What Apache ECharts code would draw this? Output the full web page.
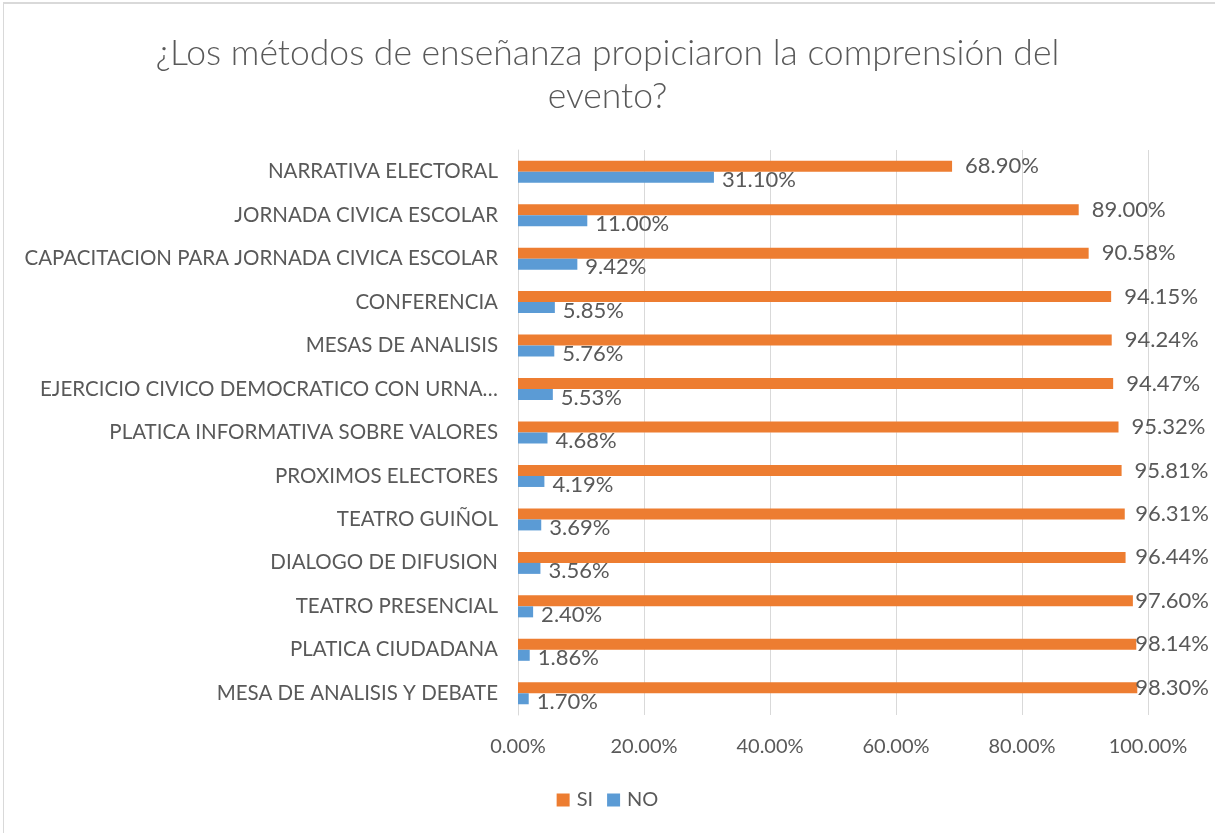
<!DOCTYPE html>
<html>
<head>
<meta charset="utf-8">
<script src="https://cdn.jsdelivr.net/npm/echarts@6/dist/echarts.min.js"></script>
<style>
html, body { margin: 0; padding: 0; background: #fff; }
#frame { position: absolute; left: 0; top: 0; width: 1215px; height: 833px; }
#edge { position: absolute; left: 3px; top: 2px; right: 0; bottom: 0; border-top: 2px solid #d9d9d9; border-left: 1px solid #d9d9d9; }
#chart { position: absolute; left: 0; top: 0; width: 1215px; height: 833px; }
</style>
</head>
<body>
<div id="frame">
  <div id="edge"></div>
  <div id="chart"></div>
</div>
<script>
// datos del grafico
var categories = [
    'NARRATIVA ELECTORAL',
    'JORNADA CIVICA ESCOLAR',
    'CAPACITACION PARA JORNADA CIVICA ESCOLAR',
    'CONFERENCIA',
    'MESAS DE ANALISIS',
    'EJERCICIO CIVICO DEMOCRATICO CON URNA…',
    'PLATICA INFORMATIVA SOBRE VALORES',
    'PROXIMOS ELECTORES',
    'TEATRO GUIÑOL',
    'DIALOGO DE DIFUSION',
    'TEATRO PRESENCIAL',
    'PLATICA CIUDADANA',
    'MESA DE ANALISIS Y DEBATE'
];
var siValues = [68.90, 89.00, 90.58, 94.15, 94.24, 94.47, 95.32, 95.81, 96.31, 96.44, 97.60, 98.14, 98.30];
var noValues = [31.10, 11.00, 9.42, 5.85, 5.76, 5.53, 4.68, 4.19, 3.69, 3.56, 2.40, 1.86, 1.70];
var axisTicks = [0, 20, 40, 60, 80, 100];

var FONT = 'Lato, "Open Sans", sans-serif';
var GREY = '#595959';

var myChart = echarts.init(document.getElementById('chart'), null, { renderer: 'canvas' });

// mantener las etiquetas dentro del area del grafico
function keepInside(params) {
    var r = params.labelRect;
    var over = r.x + r.width - 1209;
    if (over > 0) {
        return { dx: -over };
    }
    return {};
}

var option = {
    backgroundColor: 'transparent',
    animation: false,
    title: {
        text: '¿Los métodos de enseñanza propiciaron la comprensión del\nevento?',
        left: 'center',
        top: 27,
        textStyle: {
            fontFamily: FONT,
            fontSize: 35.5,
            fontWeight: 300,
            color: GREY,
            lineHeight: 43
        }
    },
    legend: {
        bottom: 18,
        left: 'center',
        itemWidth: 13,
        itemHeight: 13,
        itemGap: 14,
        icon: 'rect',
        textStyle: { fontFamily: FONT, fontSize: 20, color: GREY, padding: [0, 0, 0, 2] },
        data: ['SI', 'NO']
    },
    grid: {
        left: 518,
        right: 67,
        top: 150,
        bottom: 118,
        containLabel: false
    },
    xAxis: {
        type: 'value',
        min: axisTicks[0],
        max: axisTicks[axisTicks.length - 1],
        interval: axisTicks[1] - axisTicks[0],
        axisLine: { show: false },
        axisTick: { show: false },
        splitLine: { lineStyle: { color: '#d9d9d9', width: 1 } },
        axisLabel: {
            fontFamily: FONT,
            fontSize: 20,
            color: GREY,
            margin: 22,
            formatter: function (v) { return v.toFixed(2) + '%'; }
        }
    },
    yAxis: {
        type: 'category',
        inverse: true,
        data: categories,
        axisLine: { show: true, lineStyle: { color: '#d9d9d9' } },
        axisTick: { show: false },
        axisLabel: {
            fontFamily: FONT,
            fontSize: 20.5,
            color: GREY,
            margin: 20
        }
    },
    series: [
        {
            name: 'SI',
            type: 'bar',
            data: siValues,
            barWidth: 11,
            barGap: '0%',
            itemStyle: { color: '#ed7d31' },
            label: {
                show: true,
                position: 'right',
                distance: 13,
                fontFamily: FONT,
                fontSize: 22,
                color: GREY,
                formatter: function (p) { return p.value.toFixed(2) + '%'; }
            },
            labelLayout: keepInside
        },
        {
            name: 'NO',
            type: 'bar',
            data: noValues,
            barWidth: 11,
            barGap: '0%',
            itemStyle: { color: '#5b9bd5' },
            label: {
                show: true,
                position: 'right',
                distance: 8,
                offset: [0, 3],
                fontFamily: FONT,
                fontSize: 22,
                color: GREY,
                formatter: function (p) { return p.value.toFixed(2) + '%'; }
            }
        }
    ]
};

myChart.setOption(option);
</script>
</body>
</html>
